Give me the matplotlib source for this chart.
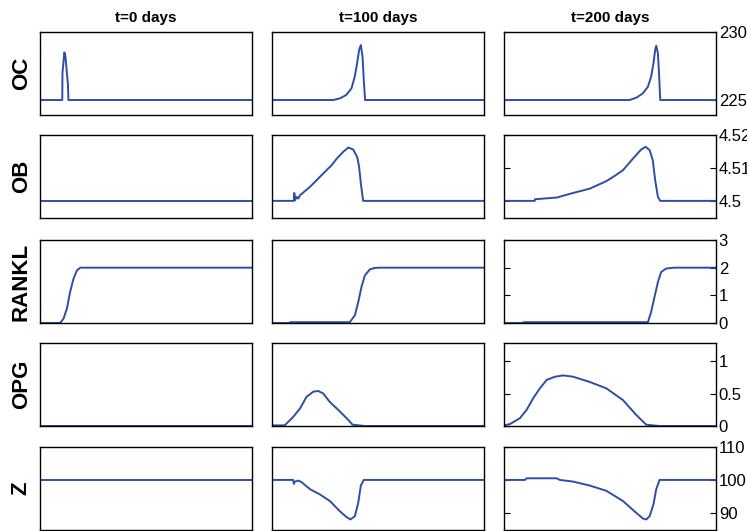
import matplotlib
matplotlib.use("Agg")
from matplotlib import pyplot as plt

plt.rcParams["font.family"] = ["Liberation Sans", "DejaVu Sans"]

LINE_COLOR = "#2d4ea8"

col_titles = ["t=0 days", "t=100 days", "t=200 days"]
row_labels = ["OC", "OB", "RANKL", "OPG", "Z"]

# x is position across the simulated window, in percent
oc_0_x = [0, 10.5, 10.6, 11.5, 12.0, 13.2, 13.4, 100]
oc_0_y = [225, 225, 227.0, 228.5, 228.2, 226.1, 225, 225]
oc_100_x = [0, 28.9, 32.0, 35.0, 37.5, 39.0, 40.0, 41.1, 41.9, 42.7, 43.3, 43.9, 100]
oc_100_y = [225, 225, 225.12, 225.37, 225.86, 226.7, 227.57, 228.68, 229.04, 228.2, 226.47, 225, 225]
oc_200_x = [0, 59.2, 62.4, 65.5, 67.9, 69.4, 70.5, 71.3, 71.8, 72.6, 73.2, 73.7, 100]
oc_200_y = [225, 225, 225.17, 225.49, 225.98, 226.72, 227.7, 228.68, 228.99, 228.43, 226.72, 225, 225]

ob_0_x = [0, 100]
ob_0_y = [4.5, 4.5]
ob_100_x = [0, 10.4, 10.5, 10.9, 11.6, 12.4, 13.2, 17.9, 25.7, 28.1, 30.5, 33.6, 36.0,
            38.3, 40.2, 41.1, 41.9, 43.0, 100]
ob_100_y = [4.5, 4.5, 4.5024, 4.5002, 4.5012, 4.5007, 4.5017, 4.50425, 4.5093, 4.5108,
            4.5128, 4.5149, 4.5162, 4.5156, 4.5133, 4.5103, 4.5053, 4.5, 4.5]
ob_200_x = [0, 14.5, 14.6, 24.8, 32.6, 40.4, 48.3, 52.0, 56.1, 60.8, 64.7, 66.8, 68.7,
            70.2, 71.3, 72.6, 73.7, 100]
ob_200_y = [4.5, 4.5, 4.5005, 4.5010, 4.5024, 4.5037, 4.5060, 4.5075, 4.5093, 4.5128,
            4.5156, 4.5164, 4.5154, 4.5123, 4.5063, 4.5012, 4.5, 4.5]

rankl_0_x = [0, 9.5, 11.1, 12.7, 14.2, 15.8, 17.4, 19.0, 100]
rankl_0_y = [0, 0, 0.16, 0.52, 1.12, 1.6, 1.9, 2.0, 2.0]
rankl_100_x = [0, 8.5, 8.6, 36.7, 39.1, 40.7, 42.2, 43.8, 46.2, 48.5, 50.9, 100]
rankl_100_y = [0, 0, 0.03, 0.03, 0.28, 0.76, 1.3, 1.72, 1.94, 1.99, 2.0, 2.0]
rankl_200_x = [0, 9.1, 9.2, 67.9, 69.4, 71.0, 72.6, 74.1, 76.5, 80.4, 100]
rankl_200_y = [0, 0, 0.03, 0.03, 0.4, 0.94, 1.48, 1.84, 1.97, 2.0, 2.0]

opg_0_x = [0, 100]
opg_0_y = [0, 0]
opg_100_x = [0, 6.0, 6.9, 10.0, 13.2, 16.3, 19.5, 21.8, 24.2, 27.3, 31.2, 35.2, 38.0, 43.8, 100]
opg_100_y = [0.01, 0.01, 0.04, 0.14, 0.27, 0.45, 0.53, 0.54, 0.5, 0.37, 0.25, 0.12, 0.02, 0.0, 0.0]
opg_200_x = [0, 2.8, 7.5, 10.7, 13.8, 16.9, 20.1, 24.0, 27.9, 32.6, 40.4, 48.3, 56.1,
             62.4, 67.1, 73.4, 100]
opg_200_y = [0.01, 0.03, 0.12, 0.25, 0.43, 0.58, 0.71, 0.76, 0.78, 0.76, 0.68, 0.58, 0.4,
             0.17, 0.02, 0.0, 0.0]

z_0_x = [0, 100]
z_0_y = [100, 100]
z_100_x = [0, 10.0, 10.3, 10.8, 12.4, 14.0, 17.9, 22.6, 27.3, 32.0, 35.2, 37.0, 39.1,
           40.7, 41.9, 43.3, 100]
z_100_y = [100, 100, 98.8, 99.5, 99.8, 99.3, 97.2, 95.6, 93.6, 90.5, 88.7, 88.0, 89.0,
           93.1, 98.3, 100, 100]
z_200_x = [0, 9.9, 10.7, 24.8, 26.3, 32.6, 40.4, 48.3, 56.1, 62.4, 65.5, 67.1, 68.7,
           70.5, 71.8, 73.4, 100]
z_200_y = [100, 100, 100.5, 100.5, 100, 99.5, 98.3, 96.7, 93.6, 90.0, 88.3, 88.0, 89.0,
           92.6, 97.2, 100, 100]

series = [
    [(oc_0_x, oc_0_y), (oc_100_x, oc_100_y), (oc_200_x, oc_200_y)],
    [(ob_0_x, ob_0_y), (ob_100_x, ob_100_y), (ob_200_x, ob_200_y)],
    [(rankl_0_x, rankl_0_y), (rankl_100_x, rankl_100_y), (rankl_200_x, rankl_200_y)],
    [(opg_0_x, opg_0_y), (opg_100_x, opg_100_y), (opg_200_x, opg_200_y)],
    [(z_0_x, z_0_y), (z_100_x, z_100_y), (z_200_x, z_200_y)],
]

ylims = [(223.9, 230), (4.4948, 4.52), (0, 3), (0, 1.28), (84.8, 110)]
yticks = [[225, 230], [4.5, 4.51, 4.52], [0, 1, 2, 3], [0, 0.5, 1], [90, 100, 110]]
yticklabels = [["225", "230"], ["4.5", "4.51", "4.52"], ["0", "1", "2", "3"],
               ["0", "0.5", "1"], ["90", "100", "110"]]

W, H = 747, 531
col_left = [40, 272, 504]
row_top = [32, 135, 240, 343, 447]
ax_w, ax_h = 212, 83

fig = plt.figure(figsize=(W / 100, H / 100), dpi=100)

for r in range(5):
    for c in range(3):
        ax = fig.add_axes([col_left[c] / W, 1 - (row_top[r] + ax_h) / H, ax_w / W, ax_h / H])
        x, y = series[r][c]
        ax.plot(x, y, color=LINE_COLOR, linewidth=1.4)
        ax.set_xlim(0, 100)
        ax.set_ylim(*ylims[r])
        ax.set_xticks([])
        for s in ax.spines.values():
            s.set_linewidth(1.0)
        if c == 2:
            ax.set_yticks(yticks[r])
            ax.set_yticklabels(yticklabels[r])
            ax.tick_params(axis="y", direction="in", length=4, width=0.8, left=True,
                           right=True, labelleft=False, labelright=True, pad=2,
                           labelsize=12)
        else:
            ax.set_yticks([])
        if r == 0:
            ax.set_title(col_titles[c], fontsize=11, fontweight="bold", pad=7)
        if c == 0:
            ax.set_ylabel(row_labels[r], fontsize=16, fontweight="bold", labelpad=6)

plt.savefig("out.png", dpi=100)
plt.close()
